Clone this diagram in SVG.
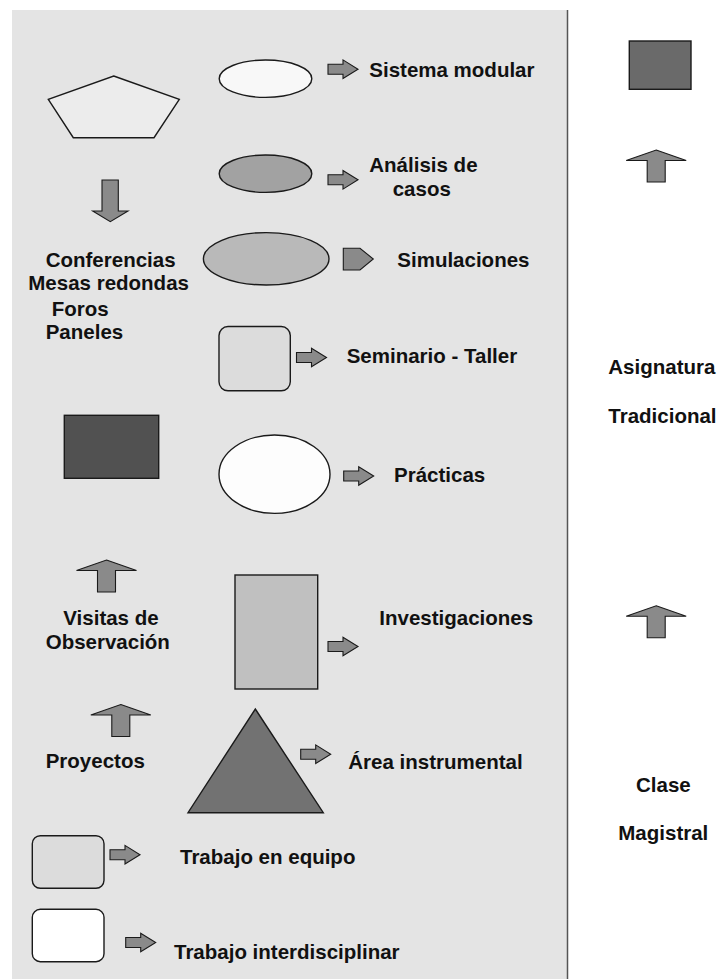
<svg xmlns="http://www.w3.org/2000/svg" width="726" height="979" viewBox="0 0 726 979">
<style>
.shape{stroke:#1a1a1a;stroke-width:1.4}
.arr{fill:#8a8a8a;stroke:#1a1a1a;stroke-width:1.1}
text{font-family:"Liberation Sans",Arial,sans-serif;font-weight:bold;font-size:20.5px;fill:#111}
</style>
<defs>
<path id="ra" d="M-15,-5 H0 V-9.3 L15,0 L0,9.3 V5 H-15 Z"/>
<path id="ua" d="M0,0 L30,10.5 H9 V32 H-9 V10.5 H-30 Z"/>
</defs>
<rect x="0" y="0" width="726" height="979" fill="#ffffff"/>
<rect x="12" y="10" width="555" height="969" fill="#e4e4e4"/>
<line x1="567.5" y1="10" x2="567.5" y2="979" stroke="#555" stroke-width="1.5"/>

<g id="pentagon"><polygon class="shape" fill="#ececec" points="113.7,76 179.3,99.3 154,137.7 73.3,137.7 48.3,99.3"/></g>
<g id="ell-sistema"><ellipse class="shape" fill="#f8f8f8" cx="265.5" cy="78.7" rx="46.3" ry="18.7"/></g>
<g id="ell-analisis"><ellipse class="shape" fill="#a2a2a2" cx="265.5" cy="173.7" rx="46.3" ry="18.7"/></g>
<g id="ell-simulaciones"><ellipse class="shape" fill="#b9b9b9" cx="266.2" cy="258.8" rx="62.8" ry="26.2"/></g>
<g id="rr-seminario"><rect class="shape" fill="#dcdcdc" x="219" y="326.5" width="71.3" height="64.3" rx="9"/></g>
<g id="rect-dark"><rect class="shape" fill="#515151" x="64.3" y="415.3" width="94.4" height="63"/></g>
<g id="ell-practicas"><ellipse class="shape" fill="#fdfdfd" cx="274.5" cy="474.2" rx="55.5" ry="39.2"/></g>
<g id="rect-investigaciones"><rect class="shape" fill="#c0c0c0" x="235" y="575" width="82.7" height="114"/></g>
<g id="triangle"><polygon class="shape" fill="#727272" points="255.3,709 323.3,812.7 188,812.7"/></g>
<g id="rr-equipo"><rect class="shape" fill="#dcdcdc" x="32.3" y="835.7" width="71.7" height="52.6" rx="8"/></g>
<g id="rr-interdisciplinar"><rect class="shape" fill="#ffffff" x="32.3" y="909.3" width="71.7" height="52.4" rx="8"/></g>
<g id="rect-right"><rect class="shape" fill="#6a6a6a" x="629.3" y="41" width="61.7" height="48.3"/></g>

<g id="connectors">
<use href="#ra" class="arr" transform="translate(343,69.2)"/>
<use href="#ra" class="arr" transform="translate(343,179.8)"/>
<path class="arr" d="M343.3,248.3 H360 L373.3,259 L360,270 H343.3 Z"/>
<use href="#ra" class="arr" transform="translate(311.5,357.5)"/>
<use href="#ra" class="arr" transform="translate(358.7,476)"/>
<use href="#ra" class="arr" transform="translate(343,646.5)"/>
<use href="#ra" class="arr" transform="translate(315.7,754.2)"/>
<use href="#ra" class="arr" transform="translate(125,854.7)"/>
<use href="#ra" class="arr" transform="translate(140.7,942.5)"/>
<path class="arr" d="M102,180 H118.3 V211 H128 L110.3,221.7 L92.7,211 H102 Z"/>
<use href="#ua" class="arr" transform="translate(106.5,560)"/>
<use href="#ua" class="arr" transform="translate(120.8,704.5)"/>
<use href="#ua" class="arr" transform="translate(656.2,150)"/>
<use href="#ua" class="arr" transform="translate(656.2,605.8)"/>
</g>

<g id="labels">
<text x="369.3" y="76.5">Sistema modular</text>
<text x="369.3" y="171.7">Análisis de</text>
<text x="392.7" y="195.7">casos</text>
<text x="397.3" y="267.3">Simulaciones</text>
<text x="45.7" y="266.7">Conferencias</text>
<text x="28.3" y="290.3">Mesas redondas</text>
<text x="51.7" y="315.5">Foros</text>
<text x="45.7" y="339">Paneles</text>
<text x="346.7" y="363.3">Seminario - Taller</text>
<text x="394" y="481.7">Prácticas</text>
<text x="63.3" y="625">Visitas de</text>
<text x="45.7" y="649">Observación</text>
<text x="379.3" y="625">Investigaciones</text>
<text x="45.7" y="768.3">Proyectos</text>
<text x="348.3" y="769">Área instrumental</text>
<text x="180" y="864">Trabajo en equipo</text>
<text x="174" y="959.3">Trabajo interdisciplinar</text>
<text x="608.3" y="374.3">Asignatura</text>
<text x="608.3" y="422.7">Tradicional</text>
<text x="636" y="792.3">Clase</text>
<text x="618.3" y="840">Magistral</text>
</g>
</svg>
